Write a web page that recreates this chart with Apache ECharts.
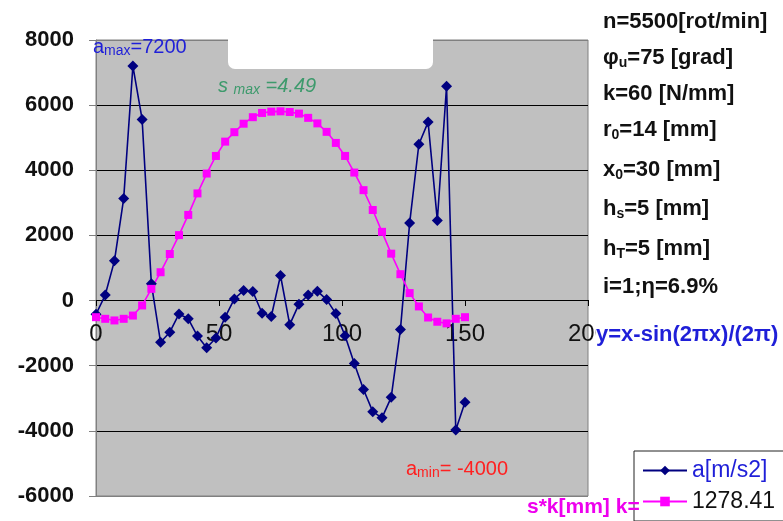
<!DOCTYPE html>
<html lang="en">
<head>
<meta charset="UTF-8">
<title>a / s*k</title>
<script src="https://cdn.jsdelivr.net/npm/echarts@6/dist/echarts.min.js"></script>
<style>
    html, body { margin: 0; padding: 0; background: #fff; }
    #chart { width: 783px; height: 521px; }
</style>
</head>
<body>
<div id="chart"></div>
<script>
    // x positions (same for both series)
    var xs = [0, 3.75, 7.5, 11.25, 15, 18.75, 22.5, 26.25, 30, 33.75, 37.5, 41.25, 45, 48.75,
        52.5, 56.25, 60, 63.75, 67.5, 71.25, 75, 78.75, 82.5, 86.25, 90, 93.75, 97.5, 101.25,
        105, 108.75, 112.5, 116.25, 120, 123.75, 127.5, 131.25, 135, 138.75, 142.5, 146.25, 150]
    // a[m/s2]
    var aVals = [-420, 170, 1220, 3130, 7200, 5560, 520, -1280, -970, -410, -560, -1090, -1450, -1150,
        -510, 50, 310, 280, -390, -490, 770, -740, -110, 170, 290, 30, -400, -1080,
        -1930, -2730, -3410, -3600, -2970, -890, 2380, 4800, 5480, 2460, 6580, -3970, -3120]
    // s*k[mm]
    var skVals = [-510, -560, -610, -560, -460, -150, 360, 870, 1430, 2010, 2630, 3290, 3900, 4440,
        4880, 5170, 5430, 5630, 5760, 5800, 5810, 5790, 5740, 5610, 5440, 5180, 4840, 4440,
        3930, 3390, 2780, 2110, 1440, 810, 230, -180, -520, -650, -700, -560, -510]
    var seriesNames = ['a[m/s2]', '1278.41']
    var paramLines = [
        '{m|n=5500[rot/min]}',
        '{m|φ}{s|u}{m|=75 [grad]}',
        '{m|k=60 [N/mm]}',
        '{m|r}{s|0}{m|=14 [mm]}',
        '{m|x}{s|0}{m|=30 [mm]}',
        '{m|h}{s|s}{m|=5 [mm]}',
        '{m|h}{s|T}{m|=5 [mm]}',
        '{m|i=1;η=6.9%}'
    ]
    var paramY = [22, 58, 94, 130, 170, 209, 249, 287]

    var F = '"Liberation Sans", Arial, sans-serif'

    function richText (x, y, text, rich, extra) {
        var style = {text: text, rich: rich, verticalAlign: 'middle', align: 'left'}
        if (extra) Object.assign(style, extra)
        return {type: 'text', x: x, y: y, z: 100, style: style}
    }

    function tokens (color, big, small, weight, italic) {
        return {
            m: {fontSize: big, fontWeight: weight, fontStyle: italic, fontFamily: F, fill: color, lineHeight: big + 2},
            s: {fontSize: small, fontWeight: weight, fontStyle: italic, fontFamily: F, fill: color, lineHeight: 12, verticalAlign: 'bottom'}
        }
    }

    var graphics = [{
        // white box at top of plot
        type: 'rect', z: 90,
        shape: {x: 228, y: 28, width: 205, height: 41, r: [0, 0, 7, 7]},
        style: {fill: '#fff'}
    }]
    var paramRich = tokens('#111', 22, 14, 'bold', 'normal')
    paramLines.forEach(function (t, i) {
        graphics.push(richText(603, paramY[i], t, paramRich))
    })
    graphics.push(richText(93, 47, '{m|a}{s|max}{m|=7200}', tokens('#1f1fd8', 20, 14, 'normal', 'normal')))
    graphics.push(richText(218, 86, '{m|s }{s|max}{m| =4.49}', tokens('#3d9a6c', 20, 14, 'normal', 'italic')))
    graphics.push(richText(406, 469, '{m|a}{s|min}{m|= -4000}', tokens('#ff2020', 20, 14, 'normal', 'normal')))
    graphics.push(richText(596, 335, 'y=x-sin(2πx)/(2π)', null, {
        font: 'bold 22px ' + F, fill: '#1f1fd8', backgroundColor: '#fff'
    }))
    graphics.push(richText(527, 507, 's*k[mm] k=', null, {
        font: 'bold 21px ' + F, fill: '#ee00ee'
    }))

    var chart = echarts.init(document.getElementById('chart'))
    var option = {
        animation: false,
        grid: {
            left: 96, top: 40, width: 492, height: 456,
            outerBoundsMode: 'none', containLabel: false,
            show: true, backgroundColor: '#c0c0c0', borderColor: '#808080', borderWidth: 1
        },
        legend: {
            orient: 'vertical',
            left: 634, top: 451,
            padding: [8, 12, 8, 8],
            itemGap: 8,
            itemWidth: 44, itemHeight: 12,
            backgroundColor: '#fff',
            borderColor: '#222', borderWidth: 1, borderRadius: 0,
            textStyle: {fontSize: 23, fontFamily: F},
            data: [
                {name: seriesNames[0], textStyle: {color: '#1f1fd8'}},
                {name: seriesNames[1], textStyle: {color: '#111'}}
            ]
        },
        xAxis: {
            type: 'value', min: 0, max: 200, interval: 50,
            position: 'bottom',
            // axis crosses the value axis at 0 (496 - 300 = 196 px up from the bottom)
            offset: -196,
            axisLine: {onZero: false, lineStyle: {color: '#000', width: 1}},
            axisTick: {show: true, length: 6, lineStyle: {color: '#000'}},
            axisLabel: {fontSize: 24, fontFamily: F, color: '#111', margin: 22},
            splitLine: {show: false}
        },
        yAxis: {
            type: 'value', min: -6000, max: 8000, interval: 2000,
            axisLine: {show: true, onZero: false, lineStyle: {color: '#808080', width: 1}},
            axisTick: {show: true, length: 7, lineStyle: {color: '#808080'}},
            axisLabel: {
                fontSize: 22, fontWeight: 'bold', fontFamily: F, color: '#111', margin: 22,
                formatter: function (v) { return String(v) }
            },
            splitLine: {
                show: true,
                lineStyle: {color: ['#808080', '#000', '#000', '#000', '#000', '#000', '#000', '#808080'], width: 1}
            }
        },
        series: [{
            name: seriesNames[0],
            type: 'line',
            data: xs.map(function (x, i) { return [x, aVals[i]] }),
            symbol: 'diamond', symbolSize: 11,
            lineStyle: {color: '#000080', width: 1.6},
            itemStyle: {color: '#000080'}
        }, {
            name: seriesNames[1],
            type: 'line',
            data: xs.map(function (x, i) { return [x, skVals[i]] }),
            symbol: 'rect', symbolSize: 8,
            lineStyle: {color: '#ff00ff', width: 1.6},
            itemStyle: {color: '#ff00ff'}
        }],
        graphic: graphics
    }
    chart.setOption(option)
</script>
</body>
</html>
